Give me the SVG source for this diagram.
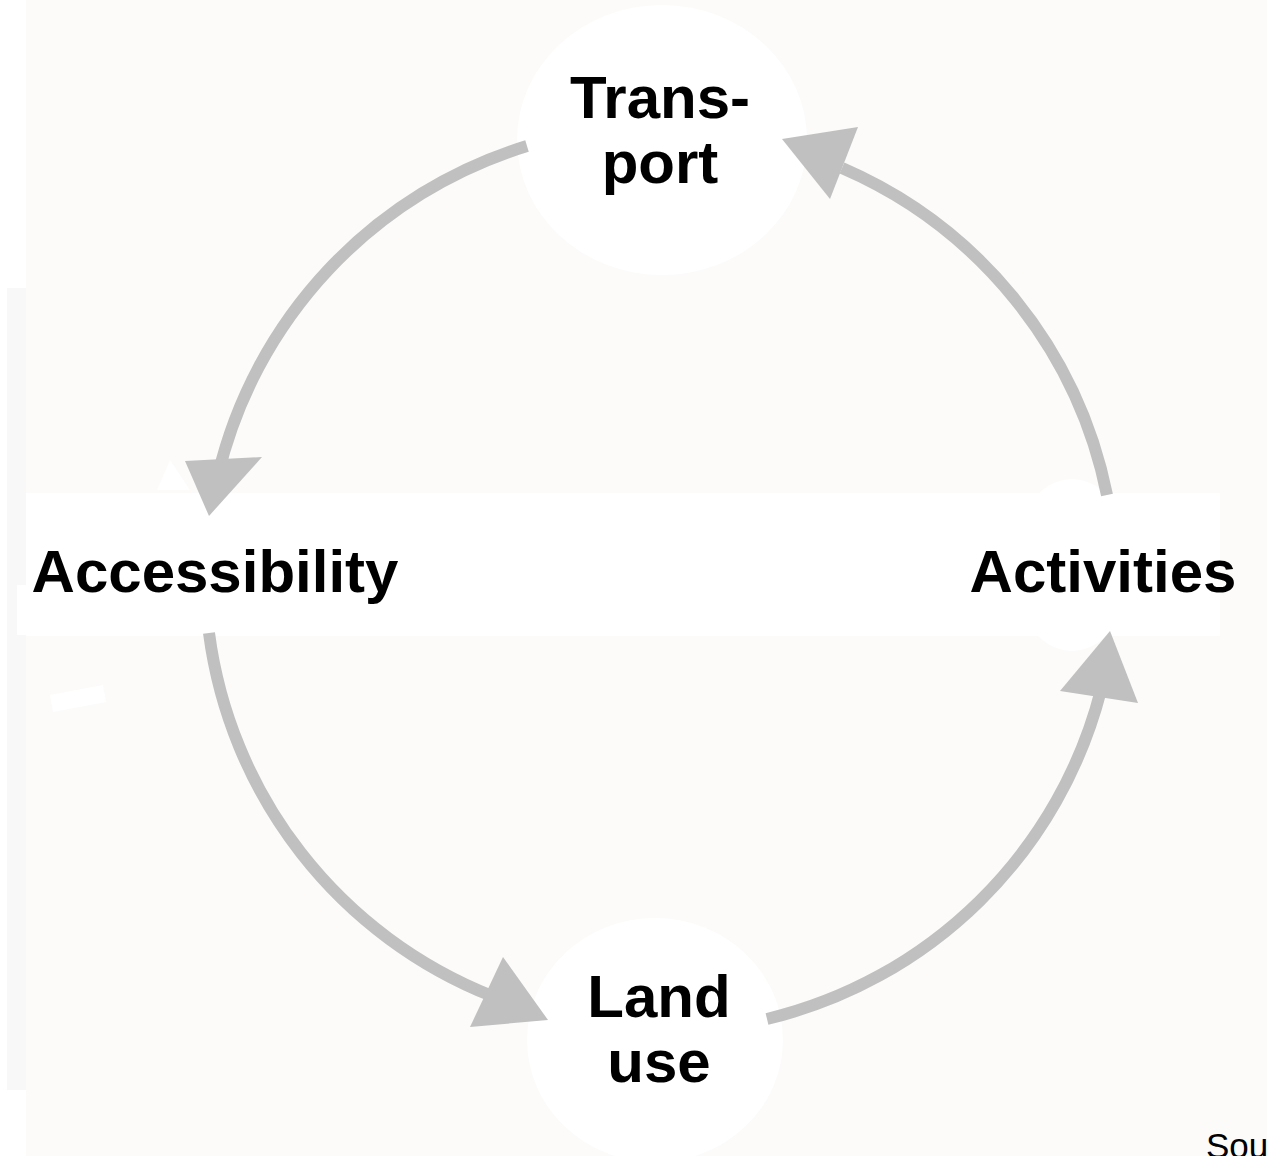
<svg xmlns="http://www.w3.org/2000/svg" width="1267" height="1156" viewBox="0 0 1267 1156">
<style>
.bg{fill:#fcfbfa}
.clear{fill:#ffffff}
.edge{fill:#f8f8f8}
.lbl{font-family:"Liberation Sans",Arial,sans-serif;font-weight:bold;font-size:60px;fill:#000;text-anchor:middle}
.src{font-family:"Liberation Sans",Arial,sans-serif;font-size:35px;fill:#000}
.arc{fill:none;stroke:#c0c0c0;stroke-width:12}
.head{fill:#c0c0c0}
</style>
<rect x="0" y="0" width="1267" height="1156" fill="#ffffff"/>
<rect class="bg" x="26" y="0" width="1241" height="1156"/>
<rect class="edge" x="7" y="288" width="19" height="802"/>
<g id="backdrops">
<ellipse class="clear" cx="662" cy="140" rx="145" ry="135"/>
<rect class="clear" x="26" y="493" width="1194" height="143"/>
<rect class="clear" x="17" y="585" width="12" height="50"/>
<ellipse class="clear" cx="1072" cy="565" rx="60" ry="86"/>
<polygon class="clear" points="157,490 170,460 190,490"/>
<polygon class="clear" points="50,695 103,685 106,702 53,712"/>
<ellipse class="clear" cx="655" cy="1040" rx="128" ry="122"/>
</g>
<g id="connectors">
<path class="arc" d="M527,146 A454,454 0 0 0 218,475"/>
<polygon class="head" points="185,461 262,457 209,516"/>
<path class="arc" d="M209,633 A454,454 0 0 0 492,996"/>
<polygon class="head" points="503,957 548,1020 470,1027"/>
<path class="arc" d="M767,1019 A454,454 0 0 0 1101,690"/>
<polygon class="head" points="1110,631 1138,703 1060,691"/>
<path class="arc" d="M1107,495 A454,454 0 0 0 842,168"/>
<polygon class="head" points="782,139 858,127 830,199"/>
</g>
<g id="node-transport">
<text class="lbl" x="660" y="118">Trans-</text>
<text class="lbl" x="660" y="183">port</text>
</g>
<g id="node-accessibility">
<text class="lbl" x="215" y="592">Accessibility</text>
</g>
<g id="node-activities">
<text class="lbl" x="1103" y="592">Activities</text>
</g>
<g id="node-landuse">
<text class="lbl" x="659" y="1017">Land</text>
<text class="lbl" x="659" y="1082">use</text>
</g>
<g id="source">
<text class="src" x="1206" y="1158">Sou</text>
</g>
</svg>
